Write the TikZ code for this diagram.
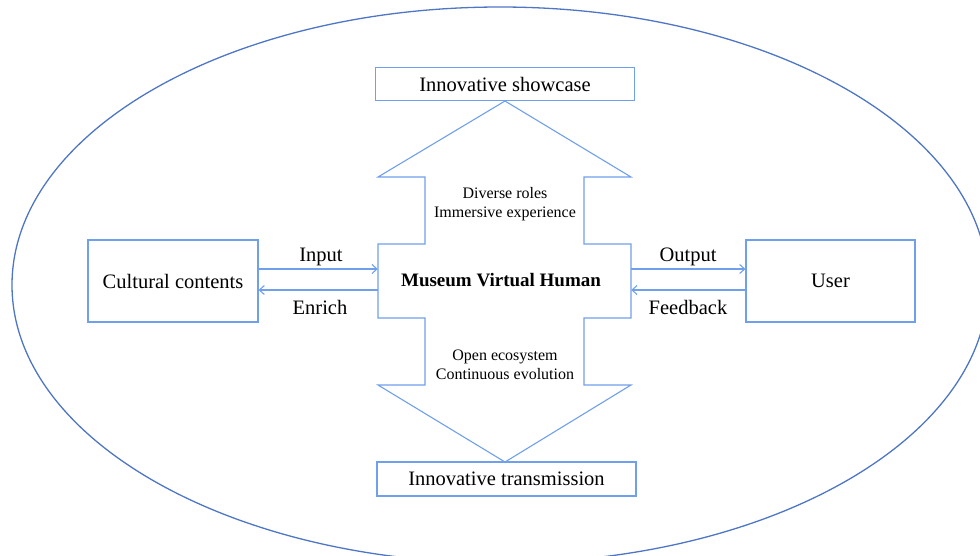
\documentclass[tikz,border=0pt]{standalone}
\usepackage{fontspec}
\setmainfont{Liberation Serif}
\usetikzlibrary{arrows.meta}
\definecolor{lineblue}{RGB}{112,160,235}
\definecolor{ellblue}{RGB}{78,118,196}
\begin{document}
\begin{tikzpicture}[x=1pt,y=-1pt,
  box/.style={draw=lineblue,line width=1.1pt,rectangle,inner sep=0pt,font=\fontsize{20.5}{24}\selectfont},
  lbl/.style={inner sep=0pt,font=\fontsize{20.5}{24}\selectfont},
  small/.style={inner sep=0pt,align=center,font=\fontsize{16}{20}\selectfont},
  arr/.style={draw=lineblue,line width=1.1pt,-{Straight Barb[length=5pt,width=9pt,line width=1.1pt]}}]
\useasboundingbox (0,0) rectangle (980,555);
% outer ellipse
\draw[ellblue,line width=1.3pt] (500,285) ellipse [x radius=488, y radius=278];
% central double arrow shape
\draw[lineblue,line width=1.1pt,line join=miter]
  (505,101) -- (631,177) -- (584,177) -- (584,244) -- (631,244) -- (631,318)
  -- (584,318) -- (584,385) -- (631,385) -- (505,462) -- (378,385) -- (425,385)
  -- (425,318) -- (378,318) -- (378,244) -- (425,244) -- (425,177) -- (378,177) -- cycle;
\node[inner sep=0pt,minimum width=253pt,minimum height=74pt] (core) at (504.5,281) {};
\node[inner sep=0pt,font=\fontsize{19}{22}\bfseries\selectfont] (mvh) at (501,280) {Museum Virtual Human};
\node[small] (up) at (505,204) {Diverse roles\\[-1pt]Immersive experience};
\node[small] (down) at (505,365) {Open ecosystem\\[-1pt]Continuous evolution};
% boxes
\node[box,minimum width=259pt,minimum height=33pt] (show) at (505,84) {Innovative showcase};
\node[box,minimum width=259pt,minimum height=34pt] (trans) at (506.5,479) {Innovative transmission};
\node[box,minimum width=170pt,minimum height=82pt] (cc) at (173,281) {Cultural contents};
\node[box,minimum width=169pt,minimum height=82pt] (user) at (830.5,281) {User};
% connectors
\draw[arr] ([yshift=12pt]cc.east) -- ([yshift=12pt]core.west);
\draw[arr] ([yshift=-9pt]core.west) -- ([yshift=-9pt]cc.east);
\draw[arr] ([yshift=12pt]core.east) -- ([yshift=12pt]user.west);
\draw[arr] ([yshift=-9pt]user.west) -- ([yshift=-9pt]core.east);
% labels
\node[lbl] (lin) at (321,257) {Input};
\node[lbl] (len) at (320,307) {Enrich};
\node[lbl] (lout) at (688,257) {Output};
\node[lbl] (lfb) at (688,307) {Feedback};
\end{tikzpicture}
\end{document}
